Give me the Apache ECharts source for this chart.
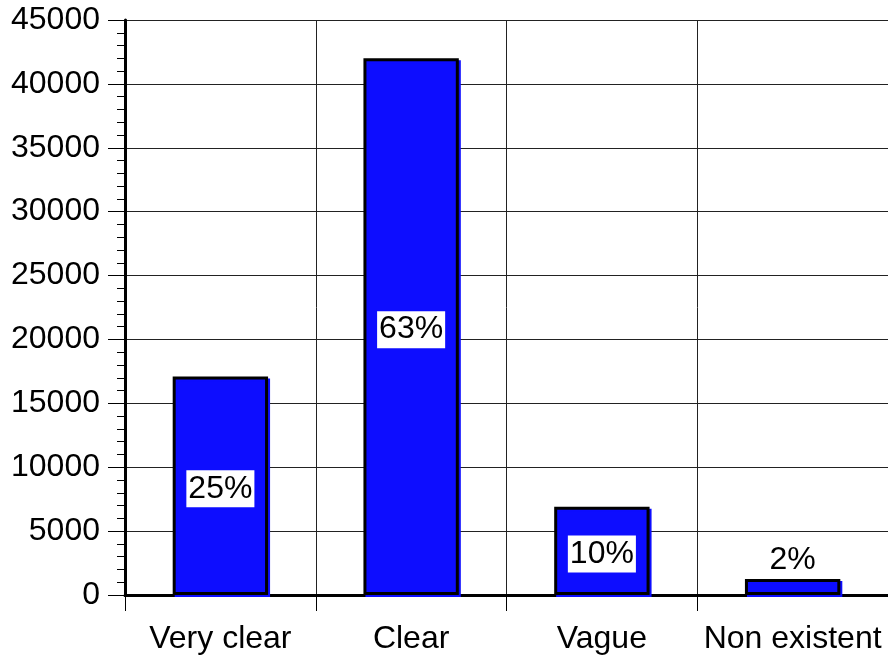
<!DOCTYPE html>
<html>
<head>
<meta charset="utf-8">
<script src="https://cdn.jsdelivr.net/npm/echarts@6/dist/echarts.min.js"></script>
<style>
html,body{margin:0;padding:0;background:#fff;}
#chart{width:888px;height:658px;}
</style>
</head>
<body>
<div id="chart"></div>
<script>
const categories = ['Very clear', 'Clear', 'Vague', 'Non existent'];
const counts = [17100, 42000, 6900, 1250];
const percentLabels = ['25%', '63%', '10%', '2%'];
const labelInside = [true, true, true, false];

const FONT = 'Liberation Sans, Arial, sans-serif';
const FS = 32;
const chart = echarts.init(document.getElementById('chart'));

const seriesData = counts.map((v, i) => ({
  value: v,
  label: labelInside[i] ? {
    show: true,
    position: 'inside',
    offset: [0, 3],
    formatter: percentLabels[i],
    backgroundColor: '#ffffff',
    padding: [3, 2, 2, 2],
    color: '#000',
    fontSize: FS,
    fontFamily: FONT
  } : {
    show: true,
    position: 'top',
    distance: 3,
    formatter: percentLabels[i],
    color: '#000',
    fontSize: FS,
    fontFamily: FONT
  }
}));

chart.setOption({
  animation: false,
  backgroundColor: '#ffffff',
  grid: { left: 125, right: -1, top: 20, bottom: 63, containLabel: false },
  xAxis: [{
    type: 'category',
    data: categories,
    position: 'bottom',
    boundaryGap: true,
    axisLine: { show: true, onZero: false, lineStyle: { color: '#000', width: 3 } },
    axisTick: { show: true, length: 16, interval: 0, lineStyle: { color: '#000', width: 1 } },
    axisLabel: { color: '#000', fontSize: FS, fontFamily: FONT, margin: 28, interval: 0 },
    splitLine: { show: true, interval: 0, lineStyle: { color: '#222', width: 1 } }
  }, {
    type: 'category',
    data: categories,
    position: 'top',
    axisLine: { show: true, lineStyle: { color: '#000', width: 2.5 } },
    axisTick: { show: false },
    axisLabel: { show: false },
    splitLine: { show: false }
  }],
  yAxis: {
    type: 'value',
    min: 0,
    max: 45000,
    interval: 5000,
    axisLine: { show: true, lineStyle: { color: '#000', width: 3 } },
    axisTick: { show: true, length: 17, lineStyle: { color: '#000', width: 1 } },
    minorTick: { show: true, splitNumber: 5, length: 8, lineStyle: { color: '#000', width: 1 } },
    axisLabel: { color: '#000', fontSize: FS, fontFamily: FONT, margin: 25, formatter: v => String(v) },
    splitLine: { show: true, lineStyle: { color: '#222', width: 1 } }
  },
  series: [{
    type: 'bar',
    data: seriesData,
    barWidth: '50%',
    itemStyle: {
      color: '#0d0dff',
      borderColor: '#000',
      borderWidth: 3,
      shadowColor: '#0d0dff',
      shadowBlur: 0,
      shadowOffsetX: 2,
      shadowOffsetY: 2
    }
  }]
});
</script>
</body>
</html>
